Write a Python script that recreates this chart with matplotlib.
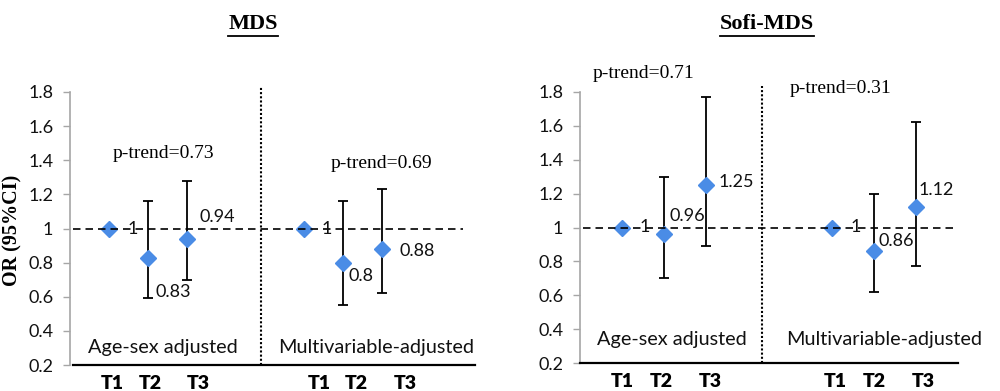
import matplotlib
matplotlib.use("Agg")
import matplotlib.pyplot as plt
from matplotlib.lines import Line2D

# data
tertiles = ["T1", "T2", "T3"]
groups = ["Age-sex adjusted", "Multivariable-adjusted"]

mds_or = [[1.00, 0.83, 0.94], [1.00, 0.80, 0.88]]
mds_lo = [[1.00, 0.59, 0.70], [1.00, 0.55, 0.62]]
mds_hi = [[1.00, 1.16, 1.28], [1.00, 1.16, 1.23]]
mds_ptrend = ["p-trend=0.73", "p-trend=0.69"]

sofi_or = [[1.00, 0.96, 1.25], [1.00, 0.86, 1.12]]
sofi_lo = [[1.00, 0.70, 0.89], [1.00, 0.62, 0.77]]
sofi_hi = [[1.00, 1.30, 1.77], [1.00, 1.20, 1.62]]
sofi_ptrend = ["p-trend=0.71", "p-trend=0.31"]

yticks = [0.2, 0.4, 0.6, 0.8, 1.0, 1.2, 1.4, 1.6, 1.8]
ytick_labels = ["0.2", "0.4", "0.6", "0.8", "1", "1.2", "1.4", "1.6", "1.8"]

SANS = "Lato"
SERIF = "Liberation Serif"
BLUE = "#4A8CE6"

fig = plt.figure(figsize=(10, 3.91), dpi=100)


def fmt(v):
    s = "%.2f" % v
    return s.rstrip("0").rstrip(".")


def panel(ax, ors, los, his, ptrends, xmax, divider, tick_pos, lbl_pos, p_pos, grp_pos, dash_end):
    xs = [[1, 2, 3], [6, 7, 8]]
    for g in range(2):
        for i in range(3):
            x, v = xs[g][i], ors[g][i]
            if i > 0:
                ax.errorbar(x, v, yerr=[[v - los[g][i]], [his[g][i] - v]], fmt="none",
                            ecolor="black", elinewidth=1.3, capsize=3.3, capthick=1.3, zorder=2)
            ax.plot(x, v, marker="D", markersize=8.5, color=BLUE, linestyle="none", zorder=3)
            lx, ly, ha = lbl_pos[g][i]
            ax.text(lx, ly, fmt(v), ha=ha, va="center", fontsize=13, family=SANS, color="#111111", zorder=5)
        ax.text(p_pos[g][0], p_pos[g][1], ptrends[g], ha="center", va="center",
                fontsize=14, family=SERIF, clip_on=False)
        ax.text(grp_pos[g][0], grp_pos[g][1], groups[g], ha="center", va="center",
                fontsize=14.3, family=SANS, color="#111111")
    ax.plot([0.08, dash_end], [1, 1], color="black", linestyle=(0, (4.5, 3)), linewidth=1.2, zorder=4)
    ax.plot([divider, divider], [0.2, 1.835], color="black", linestyle=(0, (1, 1)),
            linewidth=1.5, clip_on=False, zorder=1)
    ax.set_xlim(0, xmax)
    ax.set_ylim(0.2, 1.8)
    ax.set_yticks(yticks)
    ax.set_yticklabels(ytick_labels, family=SANS, fontsize=13, color="#111111")
    ax.set_xticks(tick_pos)
    ax.set_xticklabels(tertiles * 2, family=SANS, fontsize=14, fontweight="heavy")
    ax.tick_params(axis="x", length=0, pad=7)
    ax.tick_params(axis="y", direction="out", length=5, width=1, color="#a6a6a6", pad=7)
    ax.spines["top"].set_visible(False)
    ax.spines["right"].set_visible(False)
    ax.spines["left"].set_color("#a6a6a6")
    ax.spines["left"].set_linewidth(1.2)
    ax.spines["bottom"].set_color("black")
    ax.spines["bottom"].set_linewidth(1.6)
    ax.patch.set_visible(False)


ax1 = fig.add_axes([0.070, 26 / 391, 0.405, 273 / 391])
panel(ax1, mds_or, mds_lo, mds_hi, mds_ptrend, 10.4, 4.9,
      [1.08, 2.05, 3.3, 6.4, 7.36, 8.6],
      [[(1.62, 1.0, "center"), (2.2, 0.63, "left"), (3.33, 1.07, "left")],
       [(6.59, 1.0, "center"), (7.15, 0.72, "left"), (8.46, 0.87, "left")]],
      [(2.41, 1.44), (8.0, 1.38)],
      [(2.38, 0.305), (7.85, 0.305)], 10.08)
ax1.spines["bottom"].set_bounds(0.08, 10.4)

ax2 = fig.add_axes([0.580, 28 / 391, 0.378, 271 / 391])
panel(ax2, sofi_or, sofi_lo, sofi_hi, sofi_ptrend, 9.0, 4.33,
      [1.0, 1.93, 3.1, 6.07, 7.0, 8.17],
      [[(1.55, 1.0, "center"), (2.12, 1.07, "left"), (3.29, 1.27, "left")],
       [(6.57, 1.0, "center"), (7.1, 0.92, "left"), (8.05, 1.22, "left")]],
      [(1.52, 1.91), (6.21, 1.82)],
      [(2.19, 0.34), (7.24, 0.34)], 8.93)

fig.text(0.012, 1 - 230 / 391, "OR (95%CI)", rotation=90, ha="center", va="center",
         family=SERIF, fontsize=14.5, fontweight="bold")

# underlined titles
titles = []
for tx, label in [(0.253, "MDS"), (0.767, "Sofi-MDS")]:
    titles.append(fig.text(tx, 1 - 24 / 391, label, ha="center", va="center",
                           family=SERIF, fontsize=16, fontweight="bold"))
fig.canvas.draw()
renderer = fig.canvas.get_renderer()
for t in titles:
    bb = t.get_window_extent(renderer).transformed(fig.transFigure.inverted())
    y = bb.y0 - 0.004
    fig.add_artist(Line2D([bb.x0, bb.x1], [y, y], color="black", linewidth=1.3))

fig.savefig("out.png", dpi=100)
